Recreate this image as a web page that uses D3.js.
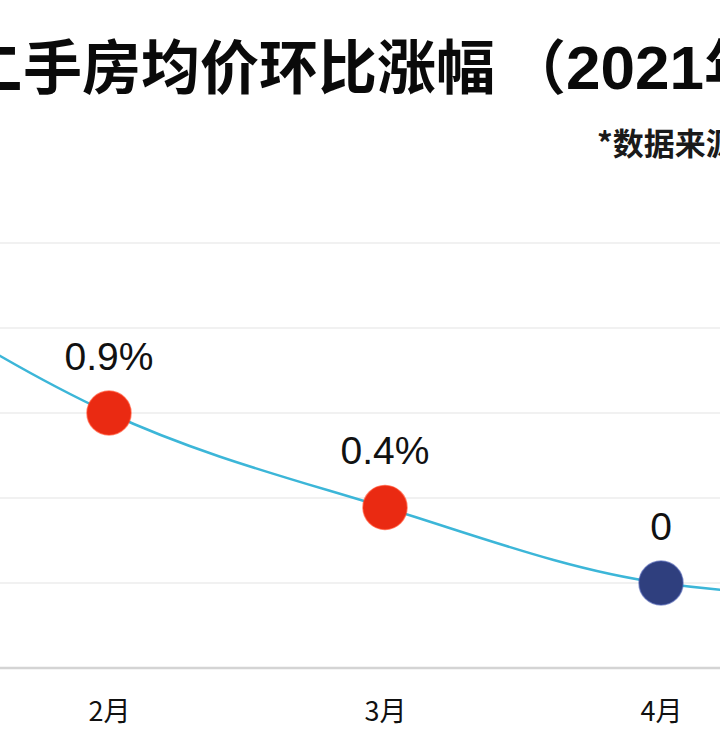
<!DOCTYPE html>
<html>
<head>
<meta charset="utf-8">
<script src="https://cdn.jsdelivr.net/npm/d3@7"></script>
<style>
  html, body { margin: 0; padding: 0; background: #fff; }
  svg { display: block; }
</style>
</head>
<body>
<svg id="canvas"></svg>
<script>
var w = 720
var h = 754

// ########## Data ##########
var months = ["1月", "2月", "3月", "4月", "5月"];
var values = [1.75, 0.9, 0.4, 0, -0.1];
var gridValues = [-0.45, 0, 0.45, 0.9, 1.35, 1.8];

var svg = d3.select("#canvas")
    .attr("width", w)
    .attr("height", h);

// ########## Scales ##########
var x = d3.scalePoint()
    .domain(months)
    .range([-167, 937]);

var y = d3.scaleLinear()
    .domain([-0.45, 1.8])
    .range([668, 243]);

function inView(px) { return px > 0 && px < w; }

// ########## Title ##########
var title = svg.append("text")
    .attr("x", -36)
    .attr("y", 89)
    .attr("font-family", "'Noto Sans CJK SC', sans-serif")
    .attr("font-weight", 700)
    .attr("font-size", 59)
    .attr("fill", "#0a0a0a");

title.append("tspan").text("二手房均价环比涨幅");
title.append("tspan").attr("dx", 12).text("（");
title.append("tspan")
    .attr("dx", 0)
    .attr("font-family", "'Liberation Sans', Arial, sans-serif")
    .attr("font-size", 62)
    .text("2021");
title.append("tspan").text("年）");

svg.append("text")
    .attr("x", 597)
    .attr("y", 155)
    .attr("font-family", "'Noto Sans CJK SC', sans-serif")
    .attr("font-weight", 700)
    .attr("font-size", 31)
    .attr("fill", "#1a1a1a")
    .text("*数据来源");

// ########## Grid ##########
svg.selectAll(".grid")
    .data(gridValues).enter()
    .append("line")
    .attr("class", "grid")
    .attr("x1", 0)
    .attr("x2", w)
    .attr("y1", function (d) { return y(d); })
    .attr("y2", function (d) { return y(d); })
    .attr("stroke", function (d, i) { return i === 0 ? "#d4d4d4" : "#f1f1f1"; })
    .attr("stroke-width", function (d, i) { return i === 0 ? 2.5 : 2; });

// ########## X axis ##########
var xAxis = svg.append("g")
    .attr("transform", "translate(0," + (y(-0.45) + 44) + ")")
    .call(d3.axisBottom(x)
        .tickValues(months.filter(function (m) { return inView(x(m)); }))
        .tickSize(0).tickPadding(0));

xAxis.select(".domain").remove();
xAxis.selectAll("text")
    .attr("font-family", "'Noto Sans CJK SC', sans-serif")
    .attr("font-weight", 400)
    .attr("font-size", 27)
    .attr("fill", "#111")
    .attr("dy", "0.35em");

// ########## Line ##########
var line = d3.line()
    .x(function (d, i) { return x(months[i]); })
    .y(function (d) { return y(d); })
    .curve(d3.curveMonotoneX);

svg.append("path")
    .datum(values)
    .attr("fill", "none")
    .attr("stroke", "#3cb6d8")
    .attr("stroke-width", 2.5)
    .attr("d", line);

// ########## Points ##########
function pointColor(v) {
    if (v > 0) return "#ea2a12";
    if (v === 0) return "#2f3f7e";
    return "#2a9d4a";
}

svg.selectAll(".dot")
    .data(values).enter()
    .append("circle")
    .attr("class", "dot")
    .attr("cx", function (d, i) { return x(months[i]); })
    .attr("cy", function (d) { return y(d); })
    .attr("r", 22)
    .attr("fill", pointColor)
    .attr("stroke", function (d) { return d3.color(pointColor(d)).brighter(0.8); })
    .attr("stroke-opacity", 0.6)
    .attr("stroke-width", 1.5);

var shown = values
    .map(function (v, i) { return { v: v, m: months[i] }; })
    .filter(function (d) { return inView(x(d.m)); });

svg.selectAll(".label")
    .data(shown).enter()
    .append("text")
    .attr("class", "label")
    .attr("x", function (d) { return x(d.m); })
    .attr("y", function (d) { return y(d.v) - 43; })
    .attr("text-anchor", "middle")
    .attr("font-family", "'Liberation Sans', Arial, sans-serif")
    .attr("font-size", 39)
    .attr("fill", "#111")
    .text(function (d) { return d.v === 0 ? "0" : d.v + "%"; });
</script>
</body>
</html>
